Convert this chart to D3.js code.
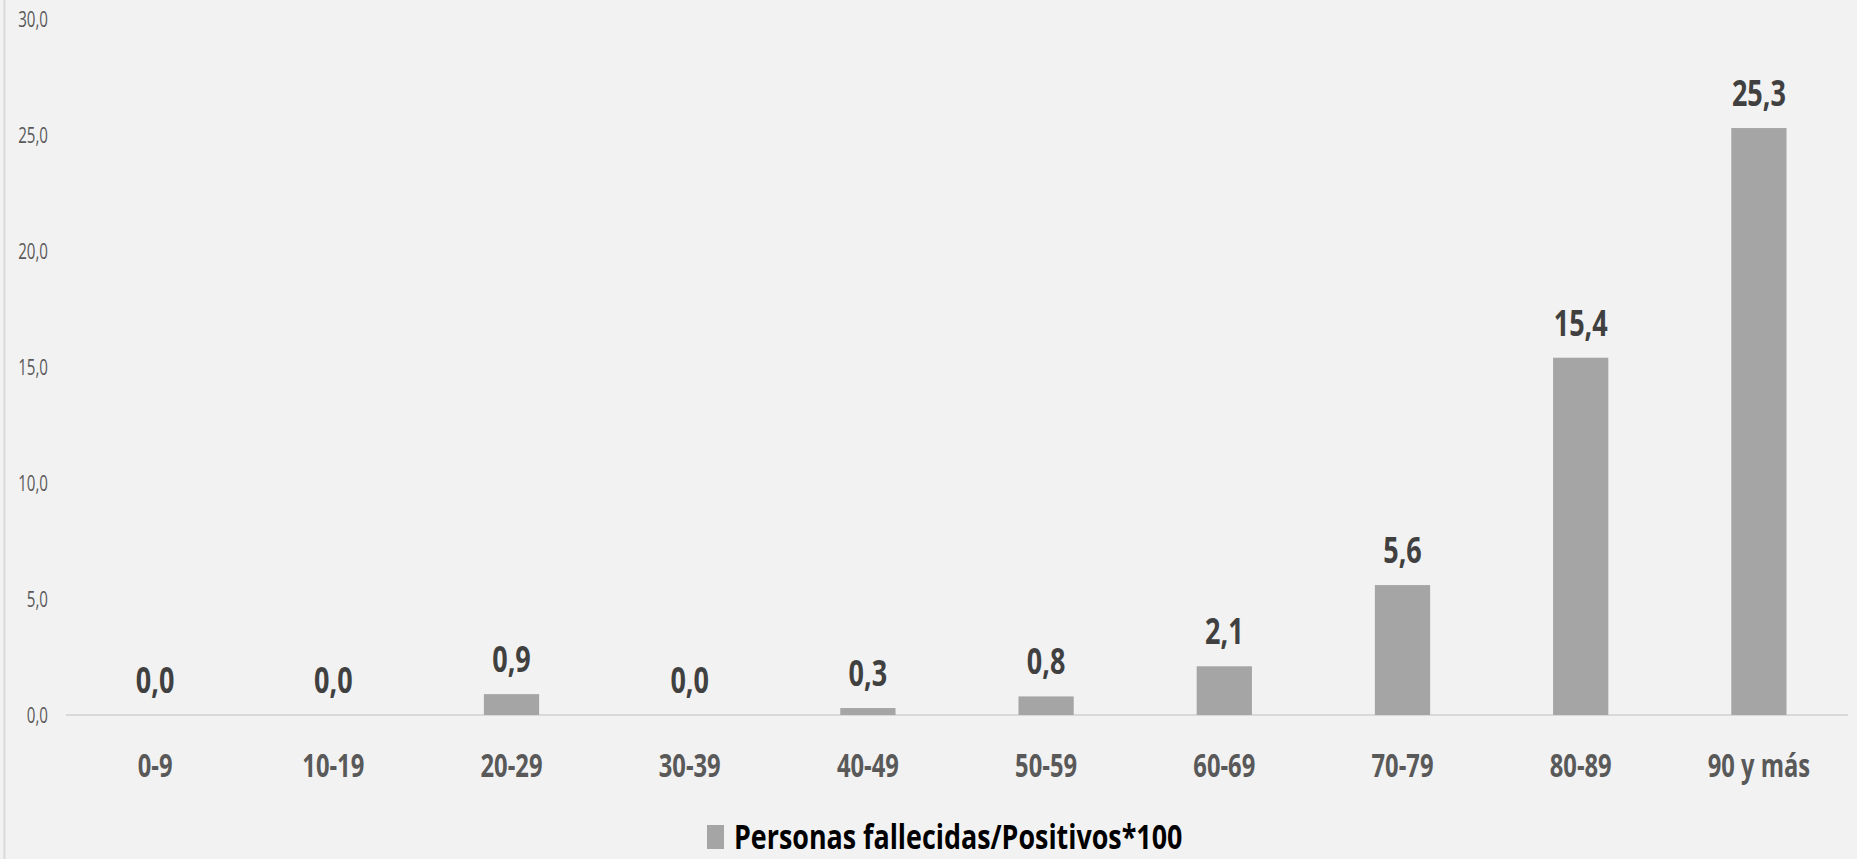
<!DOCTYPE html>
<html>
<head>
<meta charset="utf-8">
<script src="https://cdn.jsdelivr.net/npm/d3@7/dist/d3.min.js"></script>
<style>
  html, body { margin: 0; padding: 0; background: #f2f2f2; }
  svg { display: block; font-family: "Open Sans", "Noto Sans", sans-serif; }
</style>
</head>
<body>
<svg id="chart" width="1857" height="859"></svg>
<script>
// Age groups and case fatality ratio (deaths / positives * 100)
const categories = ["0-9", "10-19", "20-29", "30-39", "40-49", "50-59", "60-69", "70-79", "80-89", "90 y más"];
const values = [0.0, 0.0, 0.9, 0.0, 0.3, 0.8, 2.1, 5.6, 15.4, 25.3];
const yTicks = [0, 5, 10, 15, 20, 25, 30];
const seriesName = "Personas fallecidas/Positivos*100";

const W = 1857, H = 859;
const plot = { left: 66, right: 1848, top: 19, bottom: 715 };
const fmt = v => d3.format(".1f")(v).replace(".", ",");

const svg = d3.select("#chart");
svg.append("rect").attr("width", W).attr("height", H).attr("fill", "#f2f2f2");
// chart frame edge on the left
svg.append("line").attr("x1", 4.5).attr("x2", 4.5).attr("y1", 0).attr("y2", H)
  .attr("stroke", "#d9d9d9").attr("stroke-width", 2);

const x = d3.scaleBand().domain(categories)
  .range([plot.left, plot.right]).paddingInner(0.69).paddingOuter(0.345);
const y = d3.scaleLinear().domain([0, 30]).range([plot.bottom, plot.top]);

// condensed, tall lettering
const squeeze = (sel, sx) => sel.attr("transform", function () {
  const t = d3.select(this);
  return `translate(${t.attr("data-x")},${t.attr("data-y")}) scale(${sx},1)`;
});

// y axis labels (no line, no ticks)
const yAxis = svg.append("g").attr("class", "y-axis");
yAxis.selectAll("text").data(yTicks).join("text")
  .attr("data-x", 48).attr("data-y", d => y(d))
  .attr("text-anchor", "end").attr("dy", "0.36em")
  .attr("font-size", 21).attr("fill", "#595959")
  .text(fmt)
  .call(squeeze, 0.72);

// baseline
svg.append("line")
  .attr("x1", plot.left).attr("x2", plot.right)
  .attr("y1", y(0)).attr("y2", y(0))
  .attr("stroke", "#d9d9d9").attr("stroke-width", 2);

// bars
svg.append("g").selectAll("rect").data(values).join("rect")
  .attr("x", (d, i) => x(categories[i]))
  .attr("width", x.bandwidth())
  .attr("y", d => y(d))
  .attr("height", d => y(0) - y(d))
  .attr("fill", "#a5a5a5");

// value labels
svg.append("g").selectAll("text").data(values).join("text")
  .attr("data-x", (d, i) => x(categories[i]) + x.bandwidth() / 2)
  .attr("data-y", d => y(d) - 22)
  .attr("text-anchor", "middle")
  .attr("font-size", 36).attr("font-weight", "bold").attr("fill", "#404040")
  .text(fmt)
  .call(squeeze, 0.75);

// category labels
svg.append("g").selectAll("text").data(categories).join("text")
  .attr("data-x", d => x(d) + x.bandwidth() / 2)
  .attr("data-y", 777)
  .attr("text-anchor", "middle")
  .attr("font-size", 33).attr("font-weight", "bold").attr("fill", "#595959")
  .text(d => d)
  .call(squeeze, 0.72);

// legend
const legend = svg.append("g").attr("class", "legend");
legend.append("rect").attr("x", 707).attr("y", 825).attr("width", 17).attr("height", 24).attr("fill", "#a5a5a5");
legend.append("text")
  .attr("data-x", 734).attr("data-y", 849)
  .attr("font-size", 34).attr("font-weight", "bold").attr("fill", "#000")
  .text(seriesName)
  .call(squeeze, 0.79);
</script>
</body>
</html>
